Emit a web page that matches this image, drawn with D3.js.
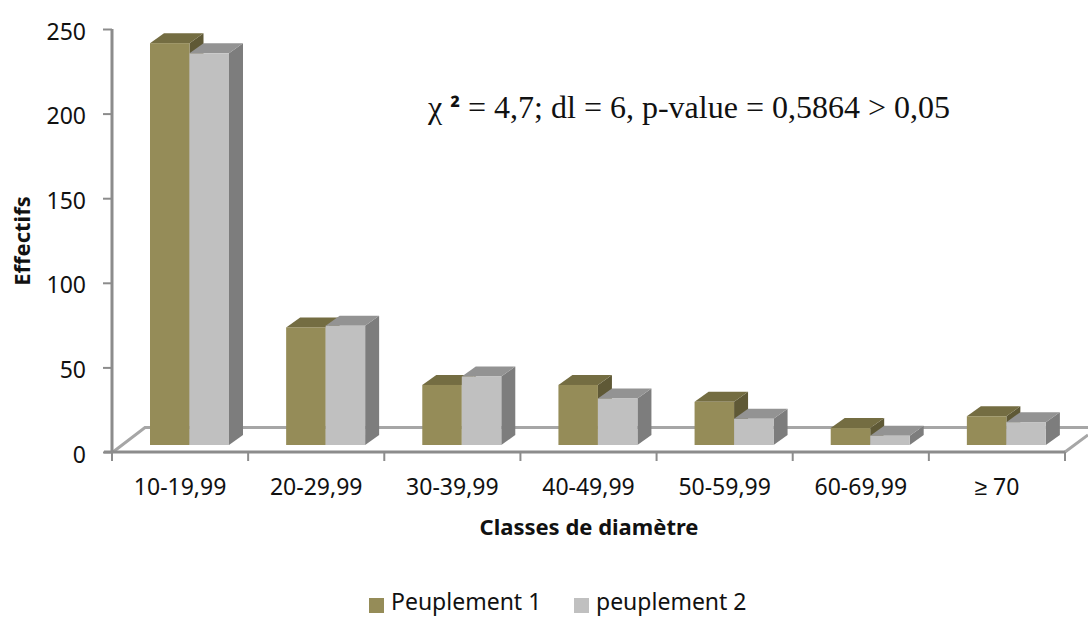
<!DOCTYPE html>
<html><head><meta charset="utf-8">
<script src="https://cdn.jsdelivr.net/npm/d3@7"></script>
<style>html,body{margin:0;background:#fff}svg{display:block}</style></head>
<body><div id="chart"></div>
<script>
const categories=["10-19,99","20-29,99","30-39,99","40-49,99","50-59,99","60-69,99","≥ 70"];
const seriesNames=["Peuplement 1","peuplement 2"];
const peuplement1=[237.5,69.5,35.5,35.5,25.5,10,17];
const peuplement2=[231.5,70.5,40.5,27.5,15.5,5.5,13.5];
const yTicks=[0,50,100,150,200,250];
const font="'Noto Sans',sans-serif";
const W=1088,H=617;
const svg=d3.select("#chart").append("svg").attr("width",W).attr("height",H);
const x=d3.scaleBand().domain(categories).range([112,1065]);
const y=d3.scaleLinear().domain([0,250]).range([452,29]);
const floor=7, dx=14, dy=10, barW=39.5, inset=38;
const axisC="#8c8c8c";
const wall=svg.append("g").attr("fill","none").attr("stroke","#a6a6a6").attr("stroke-width",3);
wall.append("path").attr("d",`M113,452L145,427.5L${W},427.5`);
wall.append("path").attr("d",`M1065,452L${W},435`);
const ax=d3.axisLeft(y).tickValues(yTicks).tickSize(9).tickPadding(17);
const gy=svg.append("g").attr("transform","translate(112,0)").call(ax);
const bx=d3.axisBottom(x).tickSize(0).tickPadding(27);
const gx=svg.append("g").attr("transform","translate(0,452)").call(bx);
const edges=[...categories.map(c=>x(c)),1065];
gx.selectAll("line.t").data(edges).join("line").attr("class","t").attr("x1",d=>d).attr("x2",d=>d).attr("y1",0).attr("y2",9);
[gy,gx].forEach(g=>{g.selectAll("line").attr("stroke",axisC).attr("stroke-width",2);
 g.selectAll(".domain").attr("stroke",axisC).attr("stroke-width",3);
 g.selectAll("text").attr("fill","#111").attr("font-family",font).attr("font-size",23);});
gy.selectAll("text").attr("dy","0.44em");
gy.select(".domain").attr("d","M0,29V452");
gx.select(".domain").attr("d","M104,0H1065");
const series=[{v:peuplement1,front:"#958c58",top:"#746d42",side:"#5f5936",off:0},
              {v:peuplement2,front:"#c0c0c0",top:"#939393",side:"#7d7d7d",off:1}];
const bars=svg.append("g");
categories.forEach((c,i)=>{
 series.forEach(s=>{
  const x0=x(c)+inset+s.off*barW, x1=x0+barW, t=y(s.v[i])-floor, b=y(0)-floor;
  const g=bars.append("g");
  g.append("polygon").attr("fill",s.side).attr("points",[[x1,t],[x1+dx,t-dy],[x1+dx,b-dy],[x1,b]].join(" "));
  g.append("polygon").attr("fill",s.top).attr("points",[[x0,t],[x0+dx,t-dy],[x1+dx,t-dy],[x1,t]].join(" "));
  g.append("rect").attr("fill",s.front).attr("x",x0).attr("y",t).attr("width",barW).attr("height",b-t);
 });
});
svg.append("text").attr("x",589).attr("y",535).attr("text-anchor","middle").attr("font-family",font).attr("font-weight",700).attr("font-size",22).attr("fill","#111").text("Classes de diamètre");
svg.append("text").attr("transform","translate(30,241) rotate(-90)").attr("text-anchor","middle").attr("font-family",font).attr("font-weight",700).attr("font-size",22).attr("fill","#111").text("Effectifs");
const note=svg.append("text").attr("x",428).attr("y",118).attr("font-family","'Liberation Serif',serif").attr("font-size",32).attr("fill","#111");
note.append("tspan").text("χ ");
note.append("tspan").attr("font-weight",700).attr("font-family",font).attr("font-size",26).text("²");
note.append("tspan").text(" = 4,7; dl = 6, p-value = 0,5864 > 0,05");
const lx=[369,574];
seriesNames.forEach((n,i)=>{
 svg.append("rect").attr("x",lx[i]).attr("y",598).attr("width",15).attr("height",15).attr("fill",series[i].front);
 svg.append("text").attr("x",lx[i]+22).attr("y",610).attr("font-family",font).attr("font-size",23).attr("fill","#111").text(n);
});
</script></body></html>
